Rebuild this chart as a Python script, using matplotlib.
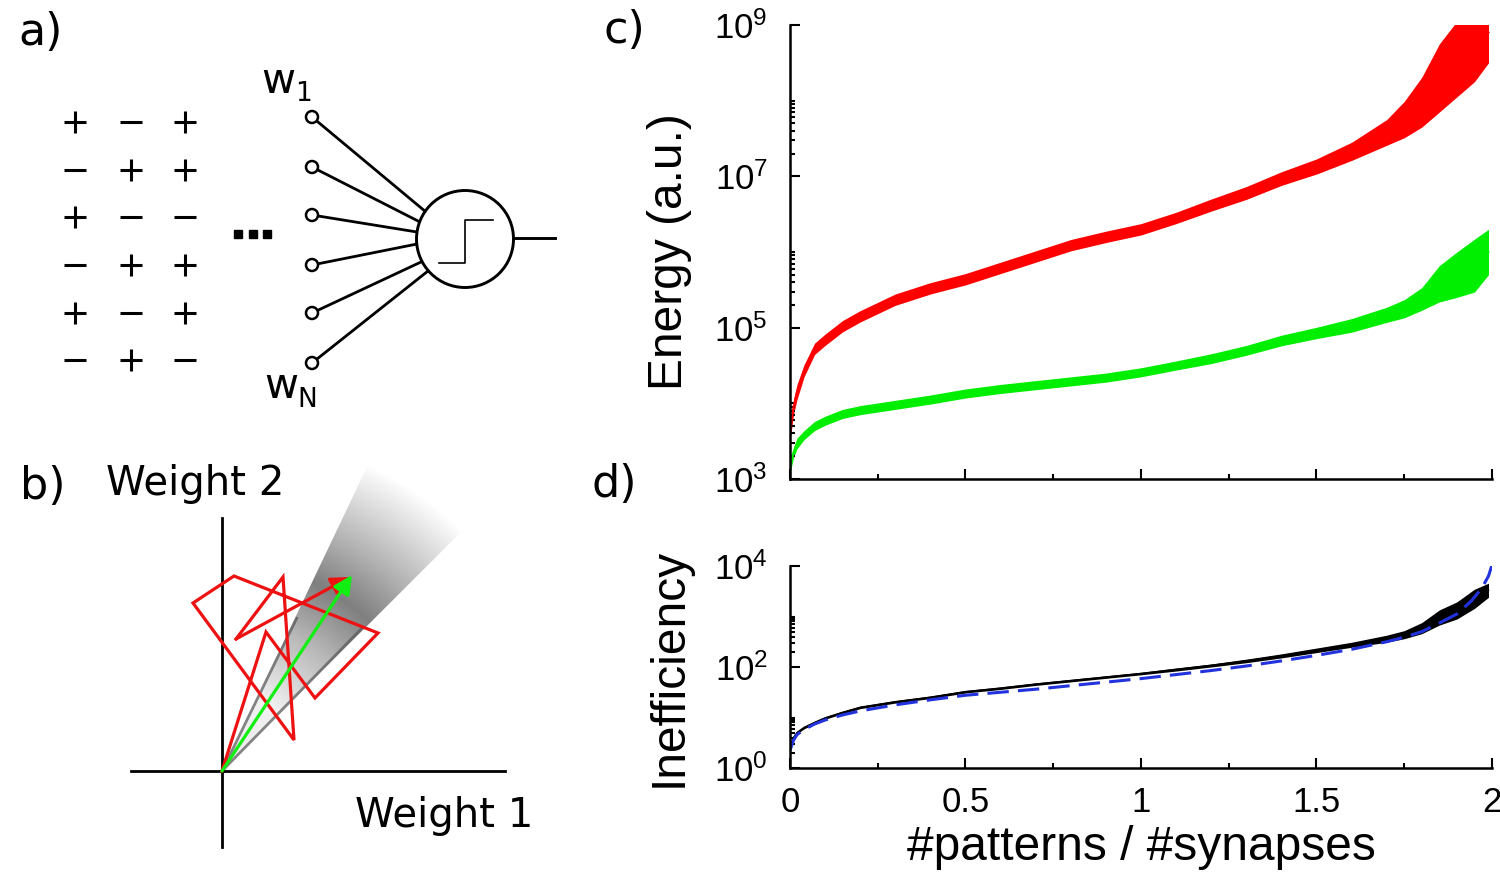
import numpy as np
import matplotlib
matplotlib.use('Agg')
import matplotlib.pyplot as plt
from matplotlib.patches import Circle, Polygon
from matplotlib.ticker import FixedLocator, NullFormatter

plt.rcParams['font.family'] = ['Liberation Sans', 'DejaVu Sans']
plt.rcParams['mathtext.fontset'] = 'custom'
plt.rcParams['mathtext.rm'] = 'Liberation Sans'
plt.rcParams['mathtext.it'] = 'Liberation Sans:italic'
plt.rcParams['mathtext.default'] = 'regular'

# ---- data (values as log10) ----
load = [0, 0.01, 0.02, 0.04, 0.07, 0.1, 0.15, 0.2, 0.3, 0.4, 0.5, 0.6, 0.7, 0.8, 0.9,
        1.0, 1.1, 1.2, 1.3, 1.4, 1.5, 1.6, 1.7, 1.75, 1.8, 1.85, 1.9, 1.95, 1.99]

energy_red = [3.6, 3.95, 4.15, 4.43, 4.72, 4.84, 5.02, 5.15, 5.37, 5.52, 5.64, 5.79, 5.94, 6.09, 6.2,
              6.3, 6.45, 6.62, 6.78, 6.97, 7.13, 7.33, 7.58, 7.75, 7.98, 8.3, 8.55, 8.75, 8.9]
energy_red_spread = [0.09, 0.1, 0.1, 0.08, 0.075, 0.075, 0.075, 0.075, 0.075, 0.075, 0.075, 0.075, 0.075, 0.075, 0.075,
                     0.075, 0.075, 0.08, 0.085, 0.09, 0.1, 0.12, 0.17, 0.24, 0.33, 0.45, 0.5, 0.5, 0.4]

energy_green = [3.15, 3.35, 3.47, 3.58, 3.7, 3.77, 3.86, 3.91, 3.98, 4.05, 4.13, 4.19, 4.24, 4.29, 4.34,
                4.41, 4.5, 4.59, 4.7, 4.83, 4.93, 5.03, 5.17, 5.25, 5.38, 5.58, 5.7, 5.82, 6.0]
energy_green_spread = [0.07, 0.07, 0.07, 0.06, 0.06, 0.06, 0.06, 0.06, 0.06, 0.06, 0.06, 0.06, 0.06, 0.06, 0.06,
                       0.06, 0.06, 0.065, 0.065, 0.07, 0.075, 0.09, 0.1, 0.12, 0.15, 0.24, 0.3, 0.35, 0.3]

ineff = [0.4, 0.6, 0.7, 0.8, 0.9, 0.99, 1.1, 1.2, 1.31, 1.4, 1.51, 1.58, 1.66, 1.73, 1.8,
         1.87, 1.95, 2.03, 2.12, 2.22, 2.33, 2.44, 2.56, 2.64, 2.77, 2.98, 3.12, 3.35, 3.52]
ineff_spread = [0.03, 0.03, 0.025, 0.025, 0.025, 0.025, 0.025, 0.025, 0.025, 0.025, 0.025, 0.025, 0.025, 0.025, 0.025,
                0.025, 0.03, 0.03, 0.035, 0.04, 0.045, 0.05, 0.07, 0.08, 0.11, 0.15, 0.17, 0.19, 0.14]

theory_load = [0, 0.01, 0.02, 0.04, 0.07, 0.1, 0.15, 0.2, 0.3, 0.4, 0.5, 0.6, 0.7, 0.8, 0.9, 1.0,
               1.1, 1.2, 1.3, 1.4, 1.5, 1.6, 1.7, 1.75, 1.8, 1.85, 1.9, 1.94, 1.97, 1.99, 2.0]
theory = [0.35, 0.55, 0.66, 0.76, 0.87, 0.95, 1.05, 1.13, 1.25, 1.35, 1.44, 1.5, 1.56, 1.63, 1.7, 1.77,
          1.85, 1.93, 2.02, 2.12, 2.23, 2.35, 2.5, 2.59, 2.7, 2.87, 3.05, 3.3, 3.55, 3.8, 4.02]

# ---- schematic geometry (figure pixels) ----
sign_rows = ['+-+', '-++', '+--', '-++', '+-+', '-+-']
sign_cols = [75, 131, 185]
sign_ys = [122, 170, 217, 265, 313, 360]
input_ys = [117, 167, 215, 265, 313, 363]
input_ends = [(426, 212), (420, 222), (417, 232), (417, 244), (421, 262), (428, 271)]
walk = [(222, 771), (266, 632), (315, 698), (378, 633), (234, 576), (193, 603),
        (294, 740), (283, 577), (236, 639)]
walk_tip = (350, 577)
mean_tip = (352, 575)

W, H = 1500, 882
fig = plt.figure(figsize=(15, 8.82), dpi=100)

ax0 = fig.add_axes([0, 0, 1, 1], zorder=0)
ax0.axis('off')

dv = 'DejaVu Sans'

# panel a
ax0.text(18, 45, 'a)', fontsize=32, family=dv, va='baseline')
for row, yy in zip(sign_rows, sign_ys):
    for s, xx in zip(row, sign_cols):
        ax0.plot([xx - 11, xx + 11], [yy, yy], color='black', lw=2.2, solid_capstyle='butt')
        if s == '+':
            ax0.plot([xx, xx], [yy - 11, yy + 11], color='black', lw=2.2, solid_capstyle='butt')
ax0.plot([238, 252.5, 267], [234, 234, 234], 's', color='black', ms=6.3)
for yy, (ex, ey) in zip(input_ys, input_ends):
    ax0.plot([312, ex], [yy, ey], color='black', lw=2.0)
    ax0.add_patch(Circle((312, yy), 6, fc='white', ec='black', lw=1.8, zorder=3))
ax0.add_patch(Circle((465, 239), 48.5, fc='white', ec='black', lw=2.1, zorder=3))
ax0.plot([439, 465, 465, 493], [263, 263, 220, 220], color='black', lw=1.2, zorder=4)
ax0.plot([514, 555], [238, 238], color='black', lw=2.1)
ax0.text(261, 93, 'w', fontsize=30, family=dv, va='baseline')
ax0.text(295, 101, '1', fontsize=19, family=dv, va='baseline')
ax0.text(264, 398, 'w', fontsize=30, family=dv, va='baseline')
ax0.text(297, 407, 'N', fontsize=19, family=dv, va='baseline')

# panel b
ax0.text(20, 499, 'b)', fontsize=32, family=dv, va='baseline')
ax0.text(106, 495, 'Weight 2', fontsize=29, family=dv, va='baseline')
ax0.text(355, 827, 'Weight 1', fontsize=29, family=dv, va='baseline')
ax0.plot([222, 222], [518, 847], color='black', lw=2.0)
ax0.plot([131, 505], [771, 771], color='black', lw=2.0)

ox, oy = walk[0]
gx = np.arange(215, 480)
gy = np.arange(455, 775)
GX, GY = np.meshgrid(gx, gy)
rr = np.hypot(GX - ox, oy - GY)
img = np.zeros(GX.shape + (4,))
img[..., :3] = 0.33
img[..., 3] = np.interp(rr, [0, 80, 150, 210, 260, 340], [0.12, 0.08, 0.4, 0.75, 0.45, 0.0])
im = ax0.imshow(img, extent=(215, 480, 775, 455), origin='upper', interpolation='bilinear', zorder=1)
a1, a2 = np.radians(64.5), np.radians(45)
wedge = Polygon([(ox, oy), (ox + 420 * np.cos(a1), oy - 420 * np.sin(a1)),
                 (ox + 420 * np.cos(a2), oy - 420 * np.sin(a2))], closed=True, transform=ax0.transData)
im.set_clip_path(wedge)
for ang, rl in [(a1 - 0.01, 170), (a2 + 0.01, 200)]:
    ax0.plot([ox, ox + rl * np.cos(ang)], [oy, oy - rl * np.sin(ang)], color='#555555', lw=2, alpha=0.7, zorder=1.5)

wx, wy = zip(*walk)
ax0.plot(wx, wy, color='#ee1111', lw=2.3, zorder=2, solid_joinstyle='miter')
ax0.annotate('', xy=walk_tip, xytext=walk[-1],
             arrowprops=dict(arrowstyle='-|>', color='#ee1111', lw=2.3, mutation_scale=28, shrinkA=0, shrinkB=0),
             zorder=2)
ax0.annotate('', xy=mean_tip, xytext=walk[0],
             arrowprops=dict(arrowstyle='-|>', color='#11ee11', lw=2.3, mutation_scale=28, shrinkA=0, shrinkB=0),
             zorder=3)

ax0.text(603, 43, 'c)', fontsize=32, family=dv, va='baseline')
ax0.text(592, 497, 'd)', fontsize=32, family=dv, va='baseline')
ax0.set_xlim(0, W)
ax0.set_ylim(H, 0)
ax0.set_aspect('auto')

# panels c and d
ax_c = fig.add_axes([790 / W, 1 - 479 / H, 702 / W, 454 / H], zorder=1)
ax_d = fig.add_axes([790 / W, 1 - 768 / H, 702 / W, 202 / H], zorder=1)

x = np.array(load)
for vals, spread, col in [(energy_red, energy_red_spread, '#ff0000'),
                          (energy_green, energy_green_spread, '#00ee00')]:
    v = np.array(vals)
    s = np.array(spread)
    ax_c.fill_between(x, 10 ** (v - s), 10 ** (v + s), color=col, lw=0)
    ax_c.plot(x, 10 ** v, color=col, lw=1.5)

v = np.array(ineff)
s = np.array(ineff_spread)
ax_d.fill_between(x, 10 ** (v - s), 10 ** (v + s), color='black', lw=0)
ax_d.plot(x, 10 ** v, color='black', lw=1.2)
ax_d.plot(theory_load, 10 ** np.array(theory), color='#2233dd', lw=2.2, dashes=(7, 3))

for ax, lo, hi, majors, minor_dec in [(ax_c, 1e3, 1e9, [3, 5, 7, 9], [3, 5, 7]),
                                      (ax_d, 1e0, 1e4, [0, 2, 4], [0, 2])]:
    ax.set_yscale('log')
    ax.set_xlim(0, 2)
    ax.set_ylim(lo, hi)
    ax.set_facecolor('none')
    for side in ['top', 'right']:
        ax.spines[side].set_visible(False)
    for side in ['left', 'bottom']:
        ax.spines[side].set_linewidth(1.8)
    ax.yaxis.set_major_locator(FixedLocator([10.0 ** e for e in majors]))
    ax.set_yticklabels(['$10^{%d}$' % e for e in majors])
    ax.yaxis.set_minor_locator(FixedLocator([k * 10.0 ** e for e in minor_dec for k in range(2, 11)]))
    ax.yaxis.set_minor_formatter(NullFormatter())
    ax.set_xticks([0, 0.5, 1, 1.5, 2])
    ax.set_xticks([0.25, 0.75, 1.25, 1.75], minor=True)
    ax.tick_params(which='major', direction='in', length=7, width=1.5, labelsize=25)
    ax.tick_params(which='minor', direction='in', length=3.5, width=1.5)
    ax.tick_params(axis='y', which='major', pad=16)
    ax.tick_params(axis='x', which='major', pad=13)
    ax.yaxis.set_label_coords(-0.14, 0.5)

ax_c.set_xticklabels([])
ax_d.set_xticklabels(['0', '0.5', '1', '1.5', '2'])
ax_c.set_ylabel('Energy (a.u.)', fontsize=34.5)
ax_d.set_ylabel('Inefficiency', fontsize=34.5)
ax_d.set_xlabel('#patterns / #synapses', fontsize=34.5, labelpad=4)

fig.savefig('out.png', dpi=100)
